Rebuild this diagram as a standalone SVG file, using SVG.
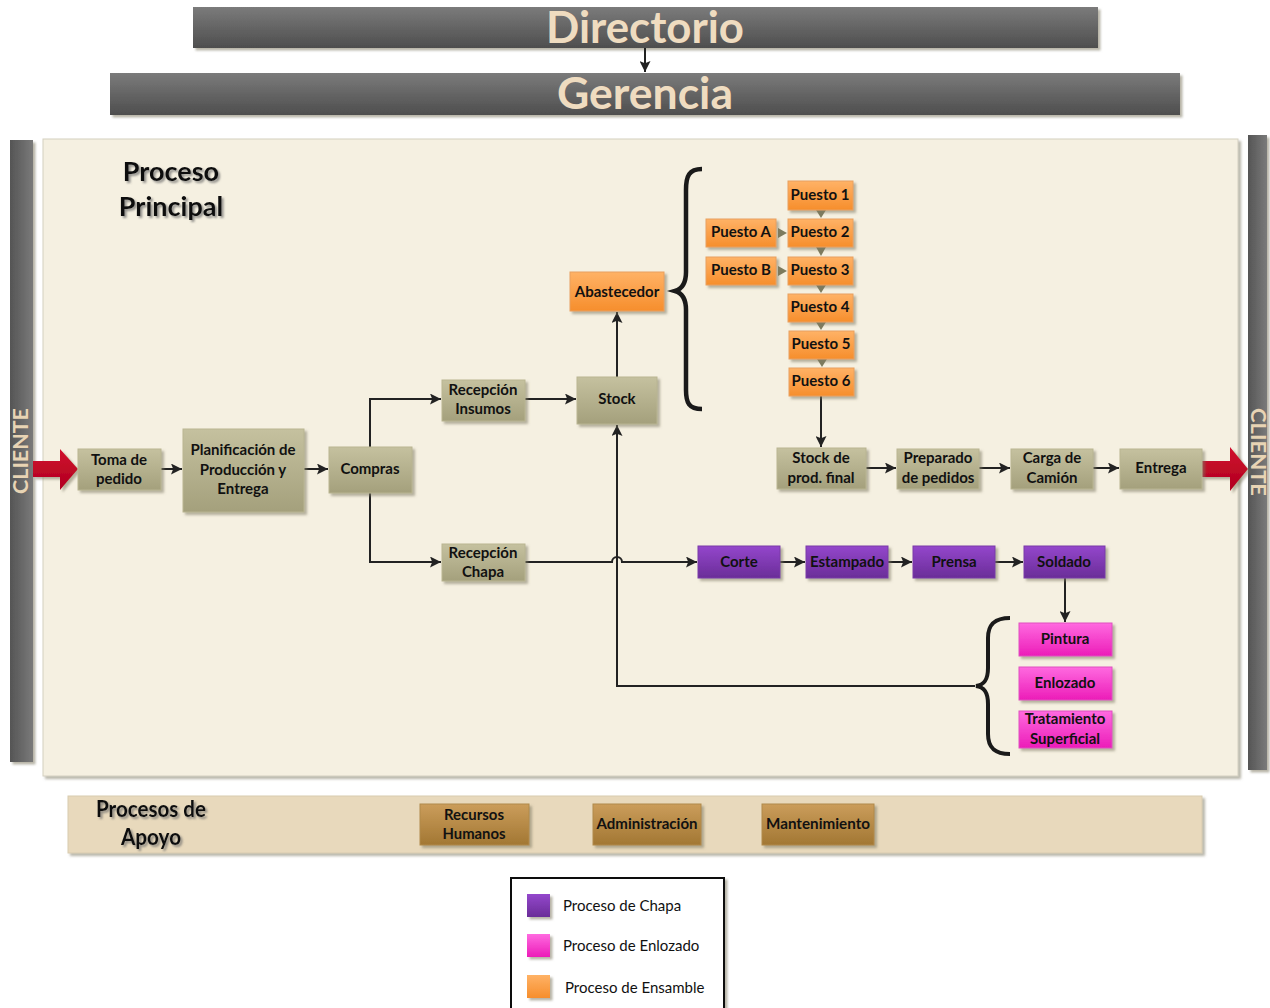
<svg xmlns="http://www.w3.org/2000/svg" width="1270" height="1008" viewBox="0 0 1270 1008">
<defs>
<linearGradient id="gGray" x1="0" y1="0" x2="0" y2="1"><stop offset="0" stop-color="#7b7b7b"/><stop offset="1" stop-color="#4e4e4e"/></linearGradient>
<linearGradient id="gGrayH" x1="0" y1="0" x2="1" y2="0"><stop offset="0" stop-color="#555"/><stop offset="1" stop-color="#7a7a7a"/></linearGradient>
<linearGradient id="gOlive" x1="0" y1="0" x2="0" y2="1"><stop offset="0" stop-color="#c5c19f"/><stop offset="1" stop-color="#a4a07c"/></linearGradient>
<linearGradient id="gOrange" x1="0" y1="0" x2="0" y2="1"><stop offset="0" stop-color="#ffb266"/><stop offset="1" stop-color="#f68e2c"/></linearGradient>
<linearGradient id="gPurple" x1="0" y1="0" x2="0" y2="1"><stop offset="0" stop-color="#9447cc"/><stop offset="1" stop-color="#6a2d98"/></linearGradient>
<linearGradient id="gPink" x1="0" y1="0" x2="0" y2="1"><stop offset="0" stop-color="#ff6ae0"/><stop offset="1" stop-color="#ec1cb8"/></linearGradient>
<linearGradient id="gBrown" x1="0" y1="0" x2="0" y2="1"><stop offset="0" stop-color="#cb9d5b"/><stop offset="1" stop-color="#a27733"/></linearGradient>
<linearGradient id="gRed" x1="0" y1="0" x2="0" y2="1"><stop offset="0" stop-color="#d0102e"/><stop offset="1" stop-color="#b0001f"/></linearGradient>
<filter id="sh" x="-10%" y="-10%" width="130%" height="140%"><feDropShadow dx="2.5" dy="2.5" stdDeviation="1" flood-color="#7d7a62" flood-opacity="0.55"/></filter>
<filter id="tsh" x="-10%" y="-10%" width="130%" height="140%"><feDropShadow dx="2" dy="2" stdDeviation="1" flood-color="#666" flood-opacity="0.7"/></filter>
<marker id="ar" viewBox="0 0 10 10" refX="10" refY="5" markerWidth="11" markerHeight="11" markerUnits="userSpaceOnUse" orient="auto"><path d="M0,0 L10,5 L0,10 L2,5 Z" fill="#222"/></marker>
<style>
.t{font-family:Lato,"Open Sans","Liberation Sans",sans-serif;font-weight:bold;font-size:15px;fill:#111;text-anchor:middle}
.big{font-family:Lato,"Open Sans","Liberation Sans",sans-serif;font-weight:bold;font-size:44px;fill:#efdcc0;text-anchor:middle}
.cl{font-family:Lato,"Open Sans","Liberation Sans",sans-serif;font-weight:bold;font-size:20px;fill:#e8d4b4;text-anchor:middle}
.ttl{font-family:Lato,"Open Sans","Liberation Sans",sans-serif;font-weight:bold;font-size:27px;fill:#111;text-anchor:middle}
.lg{font-family:Lato,"Open Sans","Liberation Sans",sans-serif;font-size:15px;fill:#111}
.ol{fill:url(#gOlive);stroke:#b9b592;stroke-width:1}
.or{fill:url(#gOrange);stroke:#e8a060;stroke-width:1}
.pu{fill:url(#gPurple);stroke:#7a3aa8;stroke-width:1}
.pk{fill:url(#gPink);stroke:#e050c0;stroke-width:1}
.br{fill:url(#gBrown);stroke:#b08a4a;stroke-width:1}
.ln{fill:none;stroke:#222;stroke-width:2}
.tri{fill:#7d7b5e}
</style>
</defs>
<rect width="1270" height="1008" fill="#ffffff"/>

<g id="directorio"><rect x="193" y="7" width="905" height="41" fill="url(#gGray)" filter="url(#sh)"/><text class="big" x="645" y="43" textLength="198" lengthAdjust="spacingAndGlyphs">Directorio</text></g>
<g id="gerencia"><rect x="110" y="73" width="1070" height="42" fill="url(#gGray)" filter="url(#sh)"/><text class="big" x="645" y="109" textLength="176" lengthAdjust="spacingAndGlyphs">Gerencia</text></g>

<g id="cliente-izq"><rect x="10" y="140" width="23" height="622" fill="url(#gGrayH)" filter="url(#sh)"/><text class="cl" transform="translate(28,451) rotate(-90)" textLength="86" lengthAdjust="spacingAndGlyphs">CLIENTE</text></g>
<g id="cliente-der"><rect x="1248" y="135" width="19" height="635" fill="url(#gGrayH)" filter="url(#sh)"/><text class="cl" transform="translate(1251,452) rotate(90)" textLength="88" lengthAdjust="spacingAndGlyphs">CLIENTE</text></g>

<g id="proceso-principal"><rect x="43" y="139" width="1195" height="637" fill="#f5f0e1" stroke="#d4d0c0" stroke-width="1" filter="url(#sh)"/>
<text class="ttl" x="171" y="181" filter="url(#tsh)">Proceso</text><text class="ttl" x="171" y="216" filter="url(#tsh)">Principal</text></g>

<g id="flecha-entrada"><path d="M33,461 L60,461 L60,449 L78,469 L60,490 L60,477 L33,477 Z" fill="url(#gRed)" filter="url(#sh)"/></g>
<g id="flecha-salida"><path d="M1202,461 L1230,461 L1230,447 L1248,469 L1230,491 L1230,477 L1202,477 Z" fill="url(#gRed)" filter="url(#sh)"/></g>

<g id="connectors">
<line class="ln" x1="645" y1="48" x2="645" y2="72" marker-end="url(#ar)"/>
<line class="ln" x1="161" y1="469" x2="182" y2="469" marker-end="url(#ar)"/>
<line class="ln" x1="304" y1="469" x2="328" y2="469" marker-end="url(#ar)"/>
<path class="ln" d="M370,447 L370,399 L441,399" marker-end="url(#ar)"/>
<path class="ln" d="M370,493 L370,562 L441,562" marker-end="url(#ar)"/>
<line class="ln" x1="525" y1="399" x2="576" y2="399" marker-end="url(#ar)"/>
<line class="ln" x1="617" y1="377" x2="617" y2="312" marker-end="url(#ar)"/>
<path class="ln" d="M525,562 L612,562 A5,5 0 0 1 622,562 L697,562" marker-end="url(#ar)"/>
<path class="ln" d="M975,686 L617,686 L617,425" marker-end="url(#ar)"/>
<line class="ln" x1="780" y1="562" x2="805" y2="562" marker-end="url(#ar)"/>
<line class="ln" x1="888" y1="562" x2="912" y2="562" marker-end="url(#ar)"/>
<line class="ln" x1="995" y1="562" x2="1023" y2="562" marker-end="url(#ar)"/>
<line class="ln" x1="1065" y1="578" x2="1065" y2="622" marker-end="url(#ar)"/>
<line class="ln" x1="821" y1="396" x2="821" y2="447" marker-end="url(#ar)"/>
<line class="ln" x1="866" y1="468" x2="896" y2="468" marker-end="url(#ar)"/>
<line class="ln" x1="979" y1="468" x2="1010" y2="468" marker-end="url(#ar)"/>
<line class="ln" x1="1093" y1="468" x2="1119" y2="468" marker-end="url(#ar)"/>
<path d="M702,169 C689,169 686,176 686,190 L686,272 C686,284 682,289 675,291 C682,293 686,298 686,310 L686,390 C686,403 689,409 702,409" fill="none" stroke="#1a1a1a" stroke-width="4.5"/>
<path d="M1010,618 C995,618 988,624 988,638 L988,668 C988,680 984,685 976,686 C984,687 988,692 988,704 L988,734 C988,748 995,754 1010,754" fill="none" stroke="#1a1a1a" stroke-width="4"/>
<path class="tri" d="M816,210 L826,210 L821,218 Z"/>
<path class="tri" d="M816,247 L826,247 L821,256 Z"/>
<path class="tri" d="M816,285 L826,285 L821,293 Z"/>
<path class="tri" d="M816,322 L826,322 L821,330 Z"/>
<path class="tri" d="M817,359 L827,359 L822,367 Z"/>
<path class="tri" d="M778,228 L787,233 L778,238 Z"/>
<path class="tri" d="M778,266 L787,271 L778,276 Z"/>
</g>

<g id="toma-pedido"><rect class="ol" x="78" y="449" width="83" height="41" filter="url(#sh)"/><text class="t" x="119" y="465">Toma de</text><text class="t" x="119" y="484">pedido</text></g>
<g id="planificacion"><rect class="ol" x="183" y="429" width="121" height="83" filter="url(#sh)"/><text class="t" x="243" y="455">Planificación de</text><text class="t" x="243" y="475">Producción y</text><text class="t" x="243" y="494">Entrega</text></g>
<g id="compras"><rect class="ol" x="329" y="447" width="83" height="46" filter="url(#sh)"/><text class="t" x="370" y="474">Compras</text></g>
<g id="recepcion-insumos"><rect class="ol" x="442" y="380" width="83" height="41" filter="url(#sh)"/><text class="t" x="483" y="395">Recepción</text><text class="t" x="483" y="414">Insumos</text></g>
<g id="stock"><rect class="ol" x="577" y="377" width="80" height="47" filter="url(#sh)"/><text class="t" x="617" y="404">Stock</text></g>
<g id="recepcion-chapa"><rect class="ol" x="442" y="544" width="83" height="37" filter="url(#sh)"/><text class="t" x="483" y="558">Recepción</text><text class="t" x="483" y="577">Chapa</text></g>
<g id="abastecedor"><rect class="or" x="570" y="272" width="94" height="39" filter="url(#sh)"/><text class="t" x="617" y="297">Abastecedor</text></g>

<g id="puesto-1"><rect class="or" x="788" y="181" width="65" height="29" filter="url(#sh)"/><text class="t" x="820" y="200">Puesto 1</text></g>
<g id="puesto-2"><rect class="or" x="788" y="219" width="65" height="28" filter="url(#sh)"/><text class="t" x="820" y="237">Puesto 2</text></g>
<g id="puesto-3"><rect class="or" x="788" y="257" width="65" height="28" filter="url(#sh)"/><text class="t" x="820" y="275">Puesto 3</text></g>
<g id="puesto-4"><rect class="or" x="788" y="294" width="65" height="28" filter="url(#sh)"/><text class="t" x="820" y="312">Puesto 4</text></g>
<g id="puesto-5"><rect class="or" x="789" y="331" width="65" height="28" filter="url(#sh)"/><text class="t" x="821" y="349">Puesto 5</text></g>
<g id="puesto-6"><rect class="or" x="789" y="368" width="65" height="28" filter="url(#sh)"/><text class="t" x="821" y="386">Puesto 6</text></g>
<g id="puesto-a"><rect class="or" x="706" y="219" width="70" height="28" filter="url(#sh)"/><text class="t" x="741" y="237">Puesto A</text></g>
<g id="puesto-b"><rect class="or" x="706" y="257" width="70" height="28" filter="url(#sh)"/><text class="t" x="741" y="275">Puesto B</text></g>

<g id="stock-final"><rect class="ol" x="777" y="448" width="89" height="41" filter="url(#sh)"/><text class="t" x="821" y="463">Stock de</text><text class="t" x="821" y="483">prod. final</text></g>
<g id="preparado"><rect class="ol" x="897" y="449" width="82" height="40" filter="url(#sh)"/><text class="t" x="938" y="463">Preparado</text><text class="t" x="938" y="483">de pedidos</text></g>
<g id="carga"><rect class="ol" x="1011" y="449" width="82" height="40" filter="url(#sh)"/><text class="t" x="1052" y="463">Carga de</text><text class="t" x="1052" y="483">Camión</text></g>
<g id="entrega"><rect class="ol" x="1120" y="449" width="82" height="40" filter="url(#sh)"/><text class="t" x="1161" y="473">Entrega</text></g>

<g id="corte"><rect class="pu" x="698" y="546" width="82" height="32" filter="url(#sh)"/><text class="t" x="739" y="567">Corte</text></g>
<g id="estampado"><rect class="pu" x="806" y="546" width="82" height="32" filter="url(#sh)"/><text class="t" x="847" y="567">Estampado</text></g>
<g id="prensa"><rect class="pu" x="913" y="546" width="82" height="32" filter="url(#sh)"/><text class="t" x="954" y="567">Prensa</text></g>
<g id="soldado"><rect class="pu" x="1024" y="546" width="81" height="32" filter="url(#sh)"/><text class="t" x="1064" y="567">Soldado</text></g>

<g id="pintura"><rect class="pk" x="1019" y="623" width="93" height="33" filter="url(#sh)"/><text class="t" x="1065" y="644">Pintura</text></g>
<g id="enlozado"><rect class="pk" x="1019" y="667" width="93" height="33" filter="url(#sh)"/><text class="t" x="1065" y="688">Enlozado</text></g>
<g id="tratamiento"><rect class="pk" x="1019" y="711" width="93" height="37" filter="url(#sh)"/><text class="t" x="1065" y="724">Tratamiento</text><text class="t" x="1065" y="744">Superficial</text></g>

<g id="procesos-apoyo"><rect x="68" y="796" width="1134" height="57" fill="#e8d9bc" stroke="#d8cbb0" stroke-width="1" filter="url(#sh)"/>
<text class="ttl" x="151" y="817" style="font-size:22px" filter="url(#tsh)" textLength="110" lengthAdjust="spacingAndGlyphs">Procesos de</text><text class="ttl" x="151" y="845" style="font-size:22px" filter="url(#tsh)" textLength="60" lengthAdjust="spacingAndGlyphs">Apoyo</text></g>
<g id="recursos-humanos"><rect class="br" x="420" y="804" width="109" height="41" filter="url(#sh)"/><text class="t" x="474" y="820" textLength="60" lengthAdjust="spacingAndGlyphs">Recursos</text><text class="t" x="474" y="839" textLength="63" lengthAdjust="spacingAndGlyphs">Humanos</text></g>
<g id="administracion"><rect class="br" x="593" y="804" width="108" height="41" filter="url(#sh)"/><text class="t" x="647" y="829" textLength="101" lengthAdjust="spacingAndGlyphs">Administración</text></g>
<g id="mantenimiento"><rect class="br" x="762" y="804" width="112" height="41" filter="url(#sh)"/><text class="t" x="818" y="829" textLength="104" lengthAdjust="spacingAndGlyphs">Mantenimiento</text></g>

<g id="leyenda"><rect x="511" y="878" width="213" height="135" fill="#fff" stroke="#111" stroke-width="2" filter="url(#sh)"/>
<rect x="527" y="894" width="23" height="23" fill="url(#gPurple)" filter="url(#sh)"/><text class="lg" x="563" y="911">Proceso de Chapa</text>
<rect x="527" y="934" width="23" height="23" fill="url(#gPink)" filter="url(#sh)"/><text class="lg" x="563" y="951">Proceso de Enlozado</text>
<rect x="527" y="975" width="23" height="23" fill="url(#gOrange)" filter="url(#sh)"/><text class="lg" x="565" y="993">Proceso de Ensamble</text></g>
</svg>
